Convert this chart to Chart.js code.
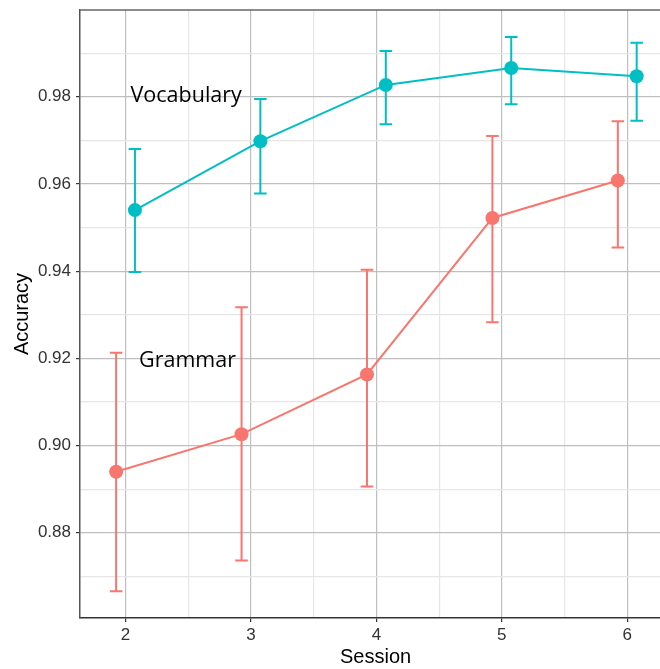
<!DOCTYPE html>
<html lang="en">
<head>
<meta charset="UTF-8">
<title>Accuracy by session</title>
<script src="https://cdn.jsdelivr.net/npm/chart.js"></script>
<style>
    html, body { margin: 0; padding: 0; background: #fff; overflow: hidden; }
    .chart-container { width: 660px; height: 669px; }
</style>
</head>
<body>
<div class="chart-container"><canvas id="accuracyChart"></canvas></div>
<script>
// sessions on the x axis
const sessions = [2, 3, 4, 5, 6];

// Grammar: mean accuracy with lower / upper error bar ends
const grammarMean  = [0.8940, 0.9026, 0.9163, 0.9522, 0.9608];
const grammarLower = [0.8666, 0.8736, 0.8906, 0.9283, 0.9454];
const grammarUpper = [0.9213, 0.9317, 0.9403, 0.9710, 0.9744];

// Vocabulary: mean accuracy with lower / upper error bar ends
const vocabMean  = [0.9540, 0.9698, 0.9827, 0.9866, 0.9847];
const vocabLower = [0.9398, 0.9578, 0.9737, 0.9783, 0.9745];
const vocabUpper = [0.9680, 0.9795, 0.9905, 0.9937, 0.9924];

// tick values (major ones get labels)
const xMajorTicks = [2, 3, 4, 5, 6];
const xMinorTicks = [2.5, 3.5, 4.5, 5.5];
const yMajorTicks = [0.88, 0.90, 0.92, 0.94, 0.96, 0.98];
const yMinorTicks = [0.87, 0.89, 0.91, 0.93, 0.95, 0.97, 0.99];

const DODGE = 0.075;      // horizontal shift so the two series don't overlap
const CAP_WIDTH = 0.1;    // error bar cap width, in session units

const isMajor = (v, list) => list.some(t => Math.abs(t - v) < 1e-6);

function buildTicks(major, minor) {
    return [...major, ...minor].sort((a, b) => a - b).map(v => ({ value: v }));
}

function series(means, shift) {
    return sessions.map((s, i) => ({ x: s + shift, y: means[i] }));
}

const errorBars = {
    id: 'errorBars',
    beforeDatasetsDraw(chart) {
        const { ctx, scales: { x, y } } = chart;
        chart.data.datasets.forEach(ds => {
            ctx.save();
            ctx.strokeStyle = ds.borderColor;
            ctx.lineWidth = 2;
            ds.data.forEach((pt, i) => {
                const px = x.getPixelForValue(pt.x);
                const left = x.getPixelForValue(pt.x - CAP_WIDTH / 2);
                const right = x.getPixelForValue(pt.x + CAP_WIDTH / 2);
                const top = y.getPixelForValue(ds.upper[i]);
                const bot = y.getPixelForValue(ds.lower[i]);
                ctx.beginPath();
                ctx.moveTo(px, top); ctx.lineTo(px, bot);
                ctx.moveTo(left, top); ctx.lineTo(right, top);
                ctx.moveTo(left, bot); ctx.lineTo(right, bot);
                ctx.stroke();
            });
            ctx.restore();
        });
    }
};

// series names written inside the panel
const seriesNotes = [
    { text: 'Vocabulary', x: 2.04, y: 0.9788 },
    { text: 'Grammar', x: 2.108, y: 0.9179 }
];

const notes = {
    id: 'notes',
    afterDatasetsDraw(chart) {
        const { ctx, scales: { x, y } } = chart;
        ctx.save();
        ctx.fillStyle = '#000';
        ctx.font = '21.5px "Open Sans", sans-serif';
        ctx.textAlign = 'left';
        ctx.textBaseline = 'alphabetic';
        seriesNotes.forEach(n => {
            ctx.fillText(n.text, x.getPixelForValue(n.x), y.getPixelForValue(n.y));
        });
        ctx.restore();
    },
    afterDraw(chart) {
        // panel top edge
        const { ctx, chartArea } = chart;
        ctx.save();
        ctx.strokeStyle = '#666';
        ctx.lineWidth = 1.5;
        ctx.beginPath();
        ctx.moveTo(chartArea.left, chartArea.top);
        ctx.lineTo(chartArea.right, chartArea.top);
        ctx.stroke();
        ctx.restore();
    }
};

Chart.defaults.font.family = '"Liberation Sans", Arial, sans-serif';

new Chart(document.getElementById('accuracyChart'), {
    type: 'line',
    data: {
        datasets: [
            {
                label: 'Grammar',
                data: series(grammarMean, -DODGE),
                lower: grammarLower,
                upper: grammarUpper,
                borderColor: '#F8766D',
                backgroundColor: '#F8766D',
                borderWidth: 2,
                pointRadius: 7,
                pointHoverRadius: 7,
                pointBorderWidth: 0
            },
            {
                label: 'Vocabulary',
                data: series(vocabMean, DODGE),
                lower: vocabLower,
                upper: vocabUpper,
                borderColor: '#00BFC4',
                backgroundColor: '#00BFC4',
                borderWidth: 2,
                pointRadius: 7,
                pointHoverRadius: 7,
                pointBorderWidth: 0
            }
        ]
    },
    options: {
        responsive: true,
        maintainAspectRatio: false,
        animation: false,
        layout: { autoPadding: false, padding: { top: 10, right: 0, bottom: 0, left: 0 } },
        plugins: {
            legend: { display: false },
            tooltip: { enabled: false }
        },
        scales: {
            x: {
                type: 'linear',
                min: 1.637,
                max: 6.261,
                afterBuildTicks: scale => { scale.ticks = buildTicks(xMajorTicks, xMinorTicks); },
                afterFit: scale => {
                    scale.height = 51;
                    scale.paddingLeft = 0;
                    scale.paddingRight = 0;
                },
                ticks: {
                    color: '#333',
                    font: { size: 17 },
                    padding: 3,
                    maxRotation: 0,
                    autoSkip: false,
                    callback: v => isMajor(v, xMajorTicks) ? String(v) : ''
                },
                grid: {
                    color: ctx => isMajor(ctx.tick.value, xMajorTicks) ? '#bfbfbf' : '#e6e6e6',
                    lineWidth: 1.2,
                    tickColor: ctx => isMajor(ctx.tick.value, xMajorTicks) ? '#333' : 'rgba(0,0,0,0)',
                    tickLength: 4
                },
                border: { color: '#333', width: 1.5 },
                title: {
                    display: true,
                    // leading spaces nudge the title toward the panel's true centre
                    text: '  Session',
                    color: '#000',
                    font: { size: 20 },
                    padding: 0
                }
            },
            y: {
                type: 'linear',
                min: 0.86044,
                max: 0.99989,
                afterBuildTicks: scale => { scale.ticks = buildTicks(yMajorTicks, yMinorTicks); },
                afterFit: scale => {
                    scale.width = 80;
                    scale.paddingTop = 0;
                    scale.paddingBottom = 0;
                },
                ticks: {
                    color: '#333',
                    font: { size: 17 },
                    padding: 5,
                    autoSkip: false,
                    callback: v => isMajor(v, yMajorTicks) ? v.toFixed(2) : ''
                },
                grid: {
                    color: ctx => isMajor(ctx.tick.value, yMajorTicks) ? '#bfbfbf' : '#e6e6e6',
                    lineWidth: 1.2,
                    tickColor: ctx => isMajor(ctx.tick.value, yMajorTicks) ? '#333' : 'rgba(0,0,0,0)',
                    tickLength: 4
                },
                border: { color: '#555', width: 1.5 },
                title: {
                    display: true,
                    text: 'Accuracy',
                    color: '#000',
                    font: { size: 20 },
                    padding: { top: 10, bottom: 0 }
                }
            }
        }
    },
    plugins: [errorBars, notes]
});
</script>
</body>
</html>
